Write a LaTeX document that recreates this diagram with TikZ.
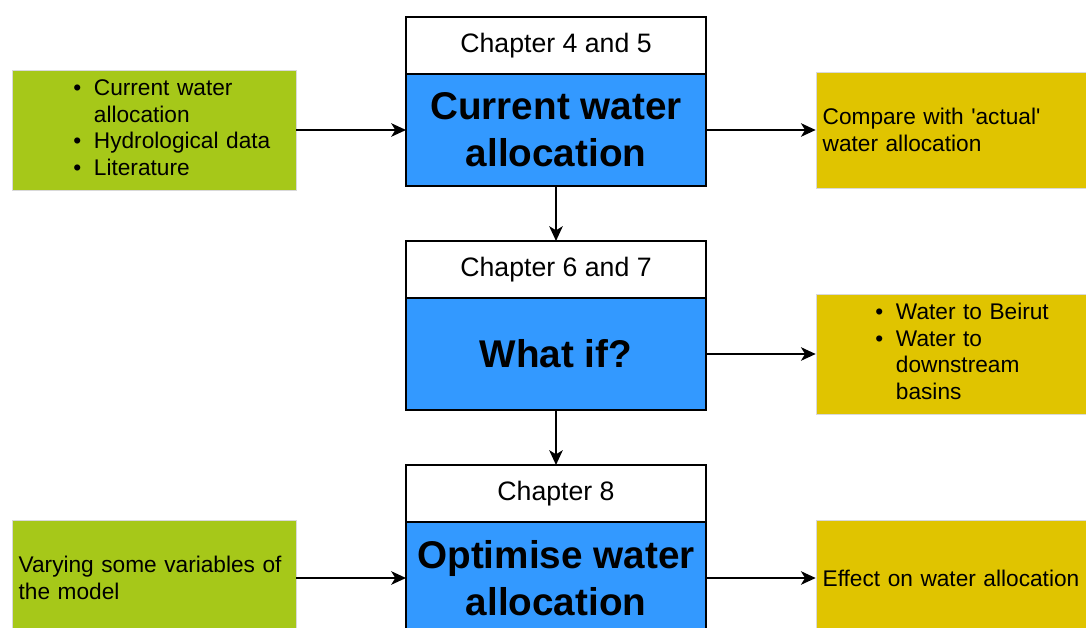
\documentclass[tikz,border=0pt]{standalone}
\usepackage{fontspec}
\setmainfont{Liberation Sans}
\usetikzlibrary{arrows.meta,positioning}
\definecolor{corefill}{HTML}{3399FF}
\definecolor{infill}{HTML}{A6C819}
\definecolor{outfill}{HTML}{E0C400}
\newcommand{\sidefont}{\fontsize{17}{20}\selectfont}
\newcommand{\blist}[1]{\begin{tabular}{@{}l@{\hspace{9.5pt}}l@{}}#1\end{tabular}}

\begin{document}
\begin{tikzpicture}[x=0.75pt, y=-0.75pt,
  chapter/.style={rectangle, draw, line width=1.9pt, fill=white, outer sep=0pt,
                  minimum width=225pt, minimum height=42.75pt, inner sep=0pt,
                  font=\fontsize{20}{24}\selectfont},
  core/.style={rectangle, draw, line width=1.9pt, fill=corefill, outer sep=0pt,
               minimum width=225pt, minimum height=84pt, inner sep=0pt,
               align=center, font=\fontsize{29}{35}\selectfont\bfseries},
  inbox/.style={rectangle, draw=black!15, fill=infill, inner sep=5pt,
                minimum width=213pt, minimum height=87pt, text width=203pt,
                align=left, font=\sidefont},
  outbox/.style={rectangle, draw=black!15, fill=outfill, inner sep=5pt,
                 minimum width=205.5pt, minimum height=87pt, text width=195.5pt,
                 align=left, font=\sidefont},
  edge/.style={draw, -{Stealth[length=11pt,width=10pt,inset=3pt]}, line width=2pt},
]
  \useasboundingbox (0,0) rectangle (1086,628);

  % Chapter blocks
  \node[chapter] (head1) at (556, 45.5) {Chapter 4 and 5};
  \node[core, below=0pt of head1] (current) {Current water\\allocation};
  \node[chapter] (head2) at (556, 269.5) {Chapter 6 and 7};
  \node[core, below=0pt of head2] (whatif) {What if?};
  \node[chapter] (head3) at (556, 493.5) {Chapter 8};
  \node[core, below=0pt of head3] (optimise) {Optimise water\\allocation};

  % Inputs
  \node[inbox] (in1) at (154, 130)
       {\hspace*{41pt}\blist{• & Current water\\ & allocation\\
                              • & Hydrological data\\ • & Literature}};
  \node[inbox] (in3) at (154, 578)
       {Varying some variables of\\the model};

  % Outputs
  \node[outbox] (out1) at (953, 130)
       {Compare with \textquotesingle actual\textquotesingle\\water allocation};
  \node[outbox] (out2) at (953, 354)
       {\hspace*{39.5pt}\blist{• & Water to Beirut\\ • & Water to\\
                                & downstream\\ & basins}};
  \node[outbox] (out3) at (953, 578) {Effect on water allocation};

  % Connectors
  \draw[edge] (in1.east) -- (current.west);
  \draw[edge] (current.east) -- (out1.west);
  \draw[edge] (current.south) -- (head2.north);
  \draw[edge] (whatif.east) -- (out2.west);
  \draw[edge] (whatif.south) -- (head3.north);
  \draw[edge] (in3.east) -- (optimise.west);
  \draw[edge] (optimise.east) -- (out3.west);
\end{tikzpicture}
\end{document}
